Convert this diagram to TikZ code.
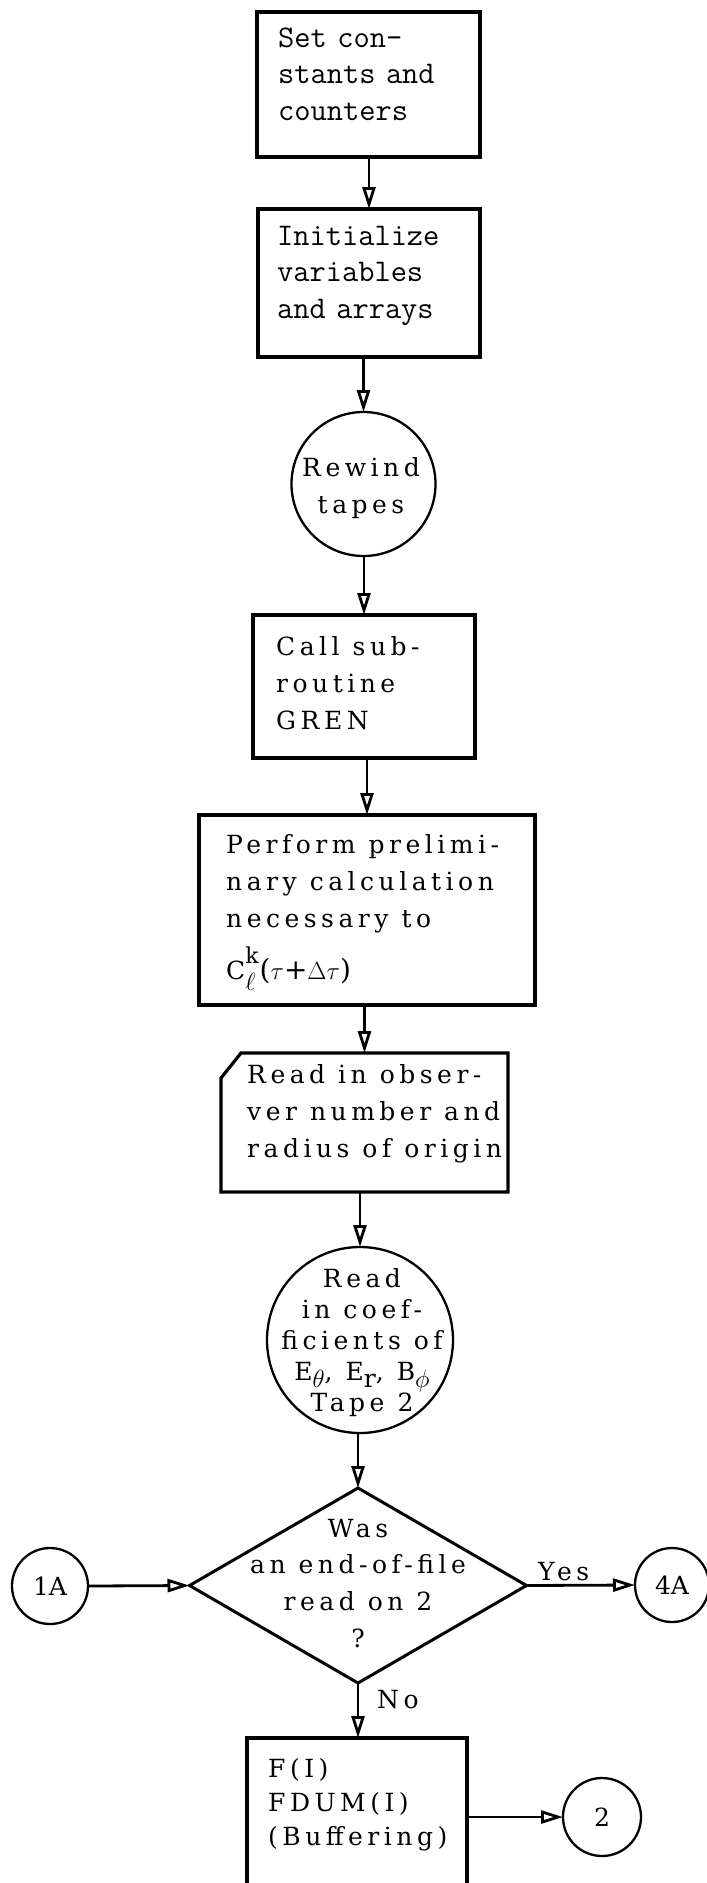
\documentclass[tikz,border=0pt]{standalone}
\usepackage{fontspec}
\newfontfamily\serif[LetterSpace=18]{DejaVu Serif}
\newfontfamily\serifn{DejaVu Serif}
\newcommand\serfont[1]{\serif\fontsize{25}{#1}\selectfont\relax}
\newcommand\tinyfont{\serifn\fontsize{25}{28}\selectfont\relax}
\newcommand\lowered[1]{\raisebox{-7pt}{#1}}
\usetikzlibrary{arrows.meta,shapes.geometric,calc}
\tikzset{
  boxline/.style={draw, line width=3.2pt, inner sep=0pt, outer sep=0pt},
  ring/.style={draw, circle, line width=2.3pt, inner sep=0pt, outer sep=0pt},
  mono/.style={font=\ttfamily\fontsize{31.5}{36.7}\selectfont\relax, align=left, text width=215pt, inner sep=0pt, anchor=base west},
  wide/.style={execute at begin node={\spaceskip=13pt\relax}},
  ser/.style={font=\serfont{37}, align=left, text width=320pt, inner sep=0pt, anchor=base west, wide},
  serc/.style={font=\serfont{37}, align=center, text width=320pt, inner sep=0pt, anchor=base, wide},
  arr/.style={line width=2.8pt, -{Triangle[open, length=22pt, width=13pt]}},
}
\begin{document}
\lineskiplimit=-100pt
\lineskip=0pt
\begin{tikzpicture}[x=1pt,y=-1pt]
\path[use as bounding box, fill=white] (0,0) rectangle (707,1883);

% boxes and shapes
\node[boxline, minimum width=223pt, minimum height=145pt] (b1) at (368.5,84.5) {};
\node[mono] (t1) at (278,47) {Set con-\\stants and\\counters};

\node[boxline, minimum width=222pt, minimum height=148pt] (b2) at (369,283) {};
\node[mono] (t2) at (277,245) {Initialize\\variables\\and arrays};

\node[ring, minimum size=144pt] (c1) at (363.5,484) {};
\node[serc] (tc1) at (361,476) {Rewind\\tapes};

\node[boxline, minimum width=222pt, minimum height=143pt] (b3) at (364,686.5) {};
\node[ser] (t3) at (276,655) {Call sub-\\routine\\GREN};

\node[boxline, minimum width=336pt, minimum height=190pt] (b4) at (367,910) {};
\node[ser] (t4) at (226,853) {Perform prelimi-\\nary calculation\\necessary to\\[13pt]C\rlap{\raisebox{16pt}{\fontsize{22}{22}\selectfont k}}\raisebox{-11pt}{$\ell$}\,{\fontsize{28}{28}\selectfont($\tau$+$\Delta\tau$)}};

\node[inner sep=0pt, outer sep=0pt, minimum width=287pt, minimum height=139pt] (b5) at (364.5,1122.5) {};
\draw[line width=3.2pt] ($(b5.north west)+(20,0)$) -- (b5.north east) -- (b5.south east) -- (b5.south west) -- ($(b5.north west)+(0,25)$) -- cycle;
\node[ser] (t5) at (247,1083) {Read in obser-\\ver number and\\radius of origin};

\node[ring, minimum size=186pt] (c2) at (360,1340) {};
\node[serc, font=\serfont{31}] (tc2) at (362,1287) {Read\\in coef-\\ficients of\\E\lowered{$\theta$}, E\lowered{r}, B\lowered{$\phi$}\\Tape 2};

\node[draw, diamond, line width=3pt, inner sep=0pt, outer sep=0pt, minimum width=337pt, minimum height=195pt] (d) at (358,1585.5) {};
\node[serc, font=\serfont{36.7}] (td) at (358,1537) {Was\\an end-of-file\\read on 2\\?};

\node[ring, minimum size=76pt, font=\tinyfont] (cA1) at (50,1586) {1A};
\node[ring, minimum size=74pt, font=\tinyfont] (cA4) at (672,1585) {4A};

\node[boxline, minimum width=220pt, minimum height=150pt] (b6) at (357,1813) {};
\node[ser, font=\serfont{34}] (t6) at (268,1777) {F(I)\\FDUM(I)\\(Buffering)};

\node[ring, minimum size=78pt, font=\tinyfont] (c3) at (602,1817) {2};

% labels
\node[ser] (yes) at (538,1580) {Yes};
\node[ser] (no) at (377,1708) {No};

% connectors
\draw[arr] (b1.south -| b2.north) -- (b2.north);
\draw[arr] (b2.south -| c1.north) -- (c1.north);
\draw[arr] (c1.south -| b3.north) -- (b3.north);
\draw[arr] (b3.south -| b4.north) -- (b4.north);
\draw[arr] (b4.south -| b5.north) -- (b5.north);
\draw[arr] (b5.south -| c2.north) -- (c2.north);
\draw[arr] (c2.south -| d.north) -- (d.north);
\draw[arr] (cA1.east) -- (d.west);
\draw[arr] (d.east) -- (cA4.west);
\draw[arr] (d.south) -- (d.south |- b6.north);
\draw[arr] (c3.west -| b6.east) -- (c3.west);
\end{tikzpicture}
\end{document}
